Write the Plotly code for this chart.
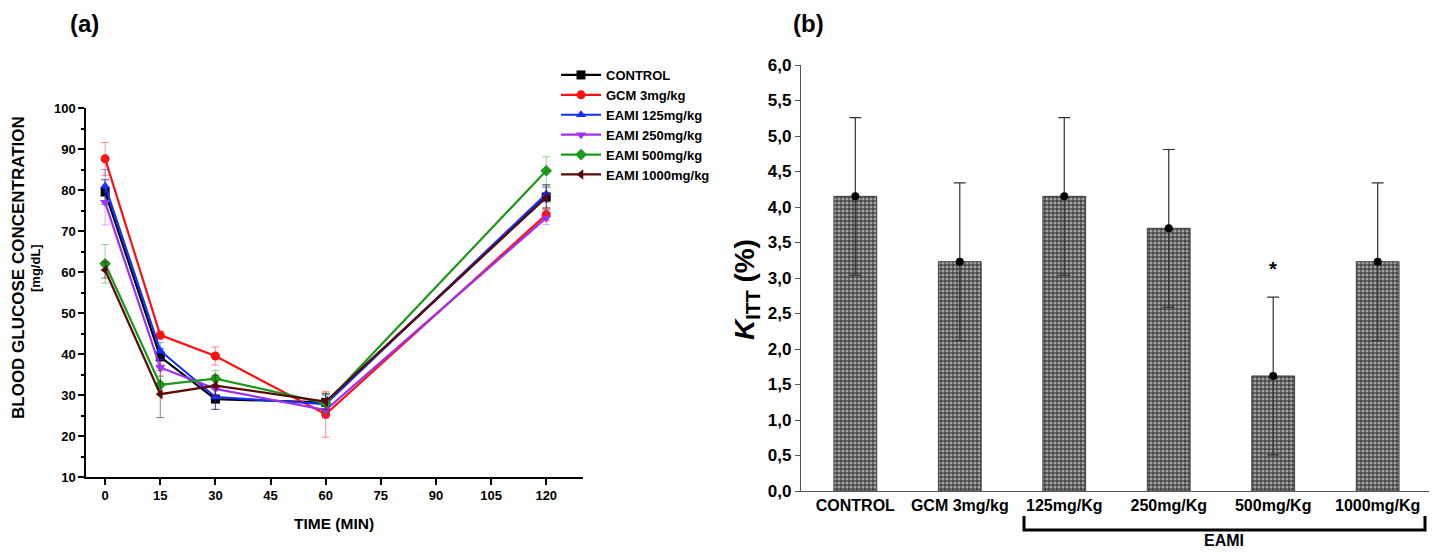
import plotly.graph_objects as go

# ---------- Panel (a) data ----------
time_min = [0, 15, 30, 60, 120]
series_names = ["CONTROL", "GCM 3mg/kg", "EAMI 125mg/kg", "EAMI 250mg/kg", "EAMI 500mg/kg", "EAMI 1000mg/kg"]
control = [79.5, 39.3, 29.0, 28.2, 78.3]
control_err = [3.0, 2.0, 2.5, 2.0, 3.0]
gcm = [87.6, 44.6, 39.5, 25.3, 74.0]
gcm_err = [4.0, 1.0, 2.2, 5.6, 1.5]
eami125 = [81.0, 40.8, 29.5, 27.8, 79.0]
eami125_err = [4.0, 2.0, 3.0, 2.0, 2.0]
eami250 = [77.0, 36.7, 31.5, 26.3, 73.2]
eami250_err = [5.5, 2.0, 2.0, 2.0, 1.6]
eami500 = [62.0, 32.5, 34.0, 28.0, 84.7]
eami500_err = [4.7, 2.0, 2.0, 2.5, 3.4]
eami1000 = [60.5, 30.2, 32.3, 28.4, 78.2]
eami1000_err = [2.0, 5.7, 2.5, 2.0, 2.5]

# ---------- Panel (b) data ----------
groups = ["CONTROL", "GCM 3mg/kg", "125mg/Kg", "250mg/Kg", "500mg/Kg", "1000mg/Kg"]
kitt = [4.15, 3.23, 4.15, 3.70, 1.62, 3.23]
kitt_err = [1.11, 1.11, 1.11, 1.11, 1.11, 1.11]
kitt_ticks = [0.0, 0.5, 1.0, 1.5, 2.0, 2.5, 3.0, 3.5, 4.0, 4.5, 5.0, 5.5, 6.0]
kitt_ticktext = ["0,0", "0,5", "1,0", "1,5", "2,0", "2,5", "3,0", "3,5", "4,0", "4,5", "5,0", "5,5", "6,0"]
a_yticks = [10, 20, 30, 40, 50, 60, 70, 80, 90, 100]
a_xticks = [0, 15, 30, 45, 60, 75, 90, 105, 120]

W, H = 1437, 552
OFF = 8  # default page body margin shifts the figure
FONT = "Arial, Liberation Sans, sans-serif"

def px_x(p):
    return (p - OFF) / W

def px_y(p):
    return 1 - (p - OFF) / H

fig = go.Figure()

styles = [
    ("black", "rgba(0,0,0,0.55)", "square"),
    ("#ff1010", "rgba(255,16,16,0.45)", "circle"),
    ("#1030ff", "rgba(16,48,255,0.45)", "triangle-up"),
    ("#a030f0", "rgba(160,48,240,0.40)", "triangle-down"),
    ("#1a9a1a", "rgba(26,154,26,0.45)", "diamond"),
    ("#5a0a0a", "rgba(90,10,10,0.55)", "triangle-left"),
]
values = [control, gcm, eami125, eami250, eami500, eami1000]
errors = [control_err, gcm_err, eami125_err, eami250_err, eami500_err, eami1000_err]

for name, vals, errs, (col, ecol, sym) in zip(series_names, values, errors, styles):
    fig.add_trace(go.Scatter(
        x=time_min, y=vals, name=name, mode="lines+markers",
        line=dict(color=col, width=2.2),
        marker=dict(symbol=sym, size=9, color=col),
        error_y=dict(type="data", array=errs, visible=True, color=ecol, thickness=1, width=4),
        xaxis="x", yaxis="y",
    ))

# Panel (b) bars
fig.add_trace(go.Bar(
    x=list(range(len(groups))), y=kitt, width=0.41,
    marker=dict(color="#444444", line=dict(color="#444", width=1),
                pattern=dict(shape=".", fgcolor="white", bgcolor="#444444", size=4, solidity=0.5)),
    error_y=dict(type="data", array=kitt_err, visible=True, color="#333", thickness=1.2, width=6),
    showlegend=False, xaxis="x2", yaxis="y2",
))
fig.add_trace(go.Scatter(
    x=list(range(len(groups))), y=kitt, mode="markers",
    marker=dict(color="black", size=8), showlegend=False, xaxis="x2", yaxis="y2",
))

tickfont_a = dict(family=FONT, size=13, color="black", weight="bold")

fig.update_layout(
    width=W, height=H,
    margin=dict(l=0, r=0, t=0, b=0, autoexpand=False),
    paper_bgcolor="white", plot_bgcolor="white",
    font=dict(family=FONT, color="black"),
    showlegend=True,
    legend=dict(x=px_x(556), y=px_y(60), xanchor="left", yanchor="top",
                font=dict(family=FONT, size=13, color="black", weight="bold"),
                bgcolor="rgba(0,0,0,0)", tracegroupgap=0, itemwidth=40),
    xaxis=dict(domain=[px_x(86), px_x(583)], range=[-5.2, 130], tickvals=a_xticks,
               showgrid=False, zeroline=False, showline=True, linecolor="black", linewidth=1.5,
               ticks="outside", ticklen=6, tickwidth=1.5, tickcolor="black",
               tickfont=tickfont_a, anchor="y", automargin=False),
    yaxis=dict(domain=[px_y(477), px_y(108)], range=[10, 100], tickvals=a_yticks,
               showgrid=False, zeroline=False, showline=True, linecolor="black", linewidth=1.5,
               ticks="outside", ticklen=6, tickwidth=1.5, tickcolor="black",
               minor=dict(ticks="outside", ticklen=3, tickcolor="black", dtick=5, tick0=5),
               tickfont=tickfont_a, anchor="x", automargin=False),
    xaxis2=dict(domain=[px_x(801), px_x(1432)], range=[-0.52, 5.52],
                tickvals=list(range(len(groups))), ticktext=groups,
                showgrid=False, zeroline=False, showline=True, linecolor="#555", linewidth=1.2,
                ticks="", tickfont=dict(family=FONT, size=16, color="black", weight="bold"),
                anchor="y2", automargin=False),
    yaxis2=dict(domain=[px_y(491), px_y(65)], range=[0, 6], tickvals=kitt_ticks, ticktext=kitt_ticktext,
                showgrid=False, zeroline=False, showline=True, linecolor="#555", linewidth=1.2,
                ticks="outside", ticklen=5, tickcolor="#555",
                tickfont=dict(family=FONT, size=17, color="black", weight="bold"),
                anchor="x2", automargin=False),
    bargap=0.5,
)

def pann(text, x, y, size, angle=0, yanchor="middle"):
    return dict(text=text, x=px_x(x), y=px_y(y), xref="paper", yref="paper",
                xanchor="center", yanchor=yanchor, textangle=angle, showarrow=False,
                font=dict(family=FONT, size=size, color="black"))

ann = [
    pann("<b>(a)</b>", 84, 8, 24, yanchor="top"),
    pann("<b>(b)</b>", 808, 8, 24, yanchor="top"),
    pann("<b>BLOOD GLUCOSE CONCENTRATION</b>", 18, 268, 17, -90),
    pann("<b>[mg/dL]</b>", 35, 268, 13, -90),
    pann("<b>TIME (MIN)</b>", 334, 523, 15.5),
    pann("<b><i>K</i><sub>ITT</sub> (%)</b>", 746, 290, 28, -90),
    pann("<b>EAMI</b>", 1224, 540, 16),
]
ann.append(dict(text="<b>*</b>", x=4, y=3.12, xref="x2", yref="y2", xanchor="center", yanchor="middle",
                showarrow=False, font=dict(family=FONT, size=20, color="black")))
fig.update_layout(annotations=ann)

# bracket under EAMI groups
bx0, bx1, by0, by1 = 1024, 1425, 516, 530
fig.add_shape(type="path", xref="paper", yref="paper",
              path=f"M {px_x(bx0)},{px_y(by0)} L {px_x(bx0)},{px_y(by1)} L {px_x(bx1)},{px_y(by1)} L {px_x(bx1)},{px_y(by0)}",
              line=dict(color="black", width=3))

fig.write_html("out.html")
